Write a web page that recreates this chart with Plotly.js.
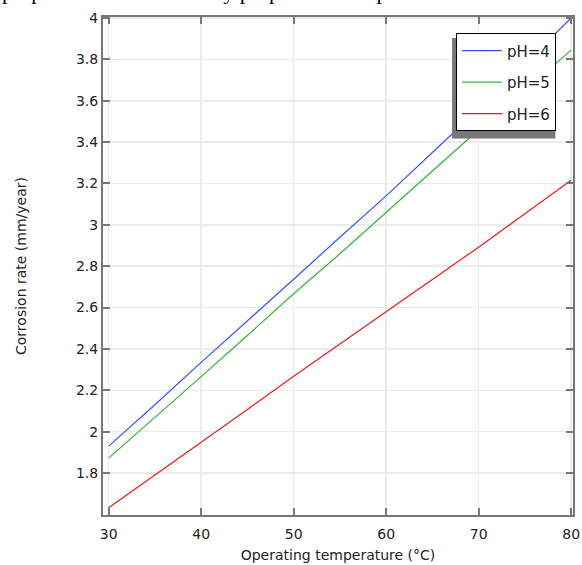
<!DOCTYPE html>
<html>
<head>
<meta charset="utf-8">
<script src="https://cdn.plot.ly/plotly-3.0.1.min.js"></script>
<style>html,body{margin:0;padding:0;background:#fff;}#chart{width:582px;height:565px;}</style>
</head>
<body>
<div id="chart"></div>
<script>
// Data
const temperature = [30, 32, 35, 40, 45, 50, 55, 60, 65, 70, 75, 80];
const rate_pH4 = [1.93, 2.01, 2.13, 2.335, 2.535, 2.737, 2.94, 3.14, 3.35, 3.56, 3.78, 4.0];
const rate_pH5 = [1.872, 1.95, 2.07, 2.266, 2.465, 2.667, 2.86, 3.058, 3.26, 3.46, 3.65, 3.845];
const rate_pH6 = [1.632, 1.695, 1.79, 1.947, 2.107, 2.268, 2.424, 2.58, 2.736, 2.892, 3.054, 3.216];
const seriesNames = ['pH=4', 'pH=5', 'pH=6'];
const yTickVals = [1.8, 2, 2.2, 2.4, 2.6, 2.8, 3, 3.2, 3.4, 3.6, 3.8, 4];
const xTickVals = [30, 40, 50, 60, 70, 80];

const colors = ['#3355ff', '#2fb52f', '#e81a1a'];
const series = [rate_pH4, rate_pH5, rate_pH6];

const traces = series.map((s, i) => ({
  x: temperature, y: s, type: 'scatter', mode: 'lines',
  name: seriesNames[i], legendgroup: 'g' + i,
  line: {color: colors[i], width: 1.2}
}));

const fontFam = '"DejaVu Sans", Verdana, sans-serif';
const axisCommon = {
  showline: true, linecolor: '#777', linewidth: 2, mirror: 'ticks',
  ticks: 'inside', ticklen: 7, tickwidth: 2, tickcolor: '#777',
  showgrid: true, gridcolor: '#ebebeb', gridwidth: 1.5,
  zeroline: false, tickfont: {family: fontFam, size: 14, color: '#222'}
};

const layout = {
  width: 582, height: 565,
  margin: {l: 103, r: 9, t: 17, b: 50},
  paper_bgcolor: '#fff', plot_bgcolor: '#fff',
  font: {family: fontFam, color: '#222'},
  showlegend: true,
  xaxis: Object.assign({}, axisCommon, {
    range: [29.39, 80.2], tickvals: xTickVals, ticklabelstandoff: 5, automargin: false,
    title: {text: 'Operating temperature (°C)', font: {family: fontFam, size: 14, color: '#222'}, standoff: 9}
  }),
  yaxis: Object.assign({}, axisCommon, {
    range: [1.597, 4.005], tickvals: yTickVals, automargin: false,
    title: {text: 'Corrosion rate (mm/year)', font: {family: fontFam, size: 14, color: '#222'}, standoff: 46}
  }),
  legend: {
    x: 0.751, y: 0.967, xanchor: 'left', yanchor: 'top',
    bgcolor: '#fff', bordercolor: '#000', borderwidth: 1,
    font: {family: fontFam, size: 15, color: '#222'},
    traceorder: 'grouped', tracegroupgap: 9, itemwidth: 40
  },
  shapes: [{
    type: 'rect', xref: 'paper', yref: 'paper',
    x0: 0.7427, x1: 0.9625, y0: 0.756, y1: 0.958,
    fillcolor: '#777', line: {width: 0}, layer: 'above'
  }],
  annotations: [{
    text: 'proportional and inversely proportional to pH value.',
    xref: 'paper', yref: 'paper', x: -0.2186, y: 1.051, xanchor: 'left', yanchor: 'middle',
    showarrow: false, font: {family: '"Liberation Serif", "Times New Roman", serif', size: 22, color: '#000'}
  }]
};

Plotly.newPlot('chart', traces, layout, {displayModeBar: false, staticPlot: true});
</script>
</body>
</html>
